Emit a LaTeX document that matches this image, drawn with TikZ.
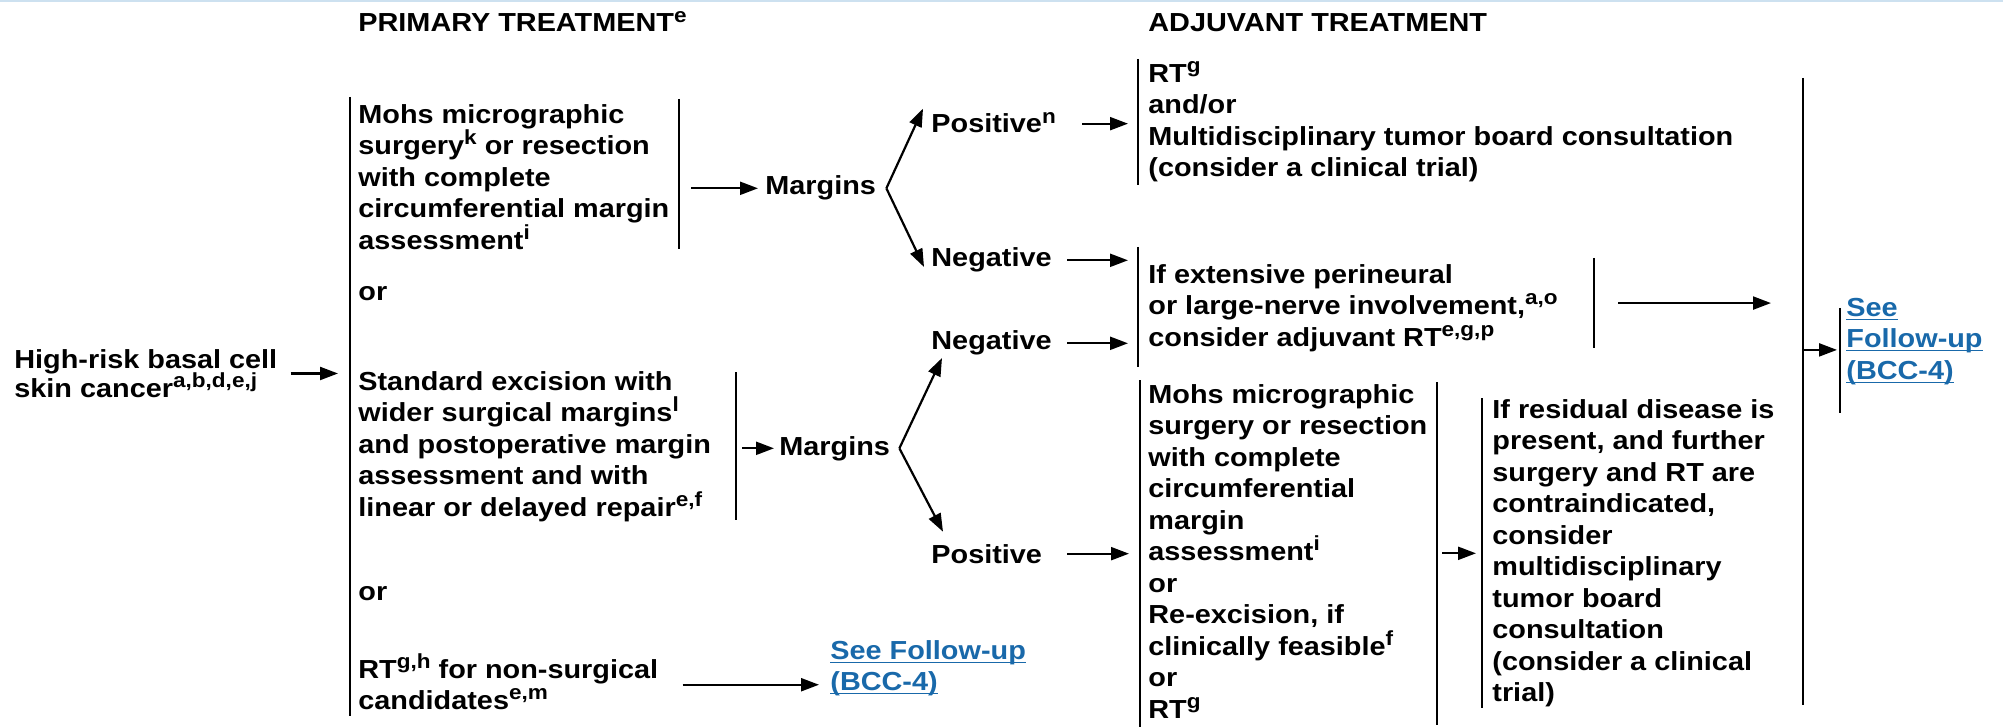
\documentclass[tikz,border=0pt]{standalone}
\usepackage{fontspec}
\setmainfont{Liberation Sans}[FakeStretch=1.105]
\usetikzlibrary{arrows.meta}
\definecolor{linkblue}{RGB}{25,105,170}
\definecolor{rulesky}{RGB}{205,225,240}
\newcommand{\sps}[1]{\smash{\raisebox{0.38em}{\fontsize{10.2}{12}\selectfont #1}}}
\newcommand{\lnk}[1]{\underline{\smash{#1}}}
\newcommand{\boxfont}{\bfseries\fontsize{13.05}{15.75}\selectfont\lineskiplimit=-20pt}

\begin{document}
\begin{tikzpicture}[x=0.5pt,y=-0.5pt,
   txt/.style={inner sep=0pt, align=left, anchor=north west, font=\boxfont},
   word/.style={inner sep=0pt, anchor=base west, font=\boxfont},
   link/.style={txt, text=linkblue},
   bar/.style={line width=1pt},
   arr/.style={line width=1.1pt, -{Triangle[length=9pt,width=6.5pt]}}]
   \useasboundingbox (0,0) rectangle (2003,727);
   \draw[rulesky, line width=1.5pt] (0,1) -- (2003,1);

   % headings
   \node[word] (hdP) at (358,32) {PRIMARY TREATMENT\sps{e}};
   \node[word] (hdA) at (1148,32) {ADJUVANT TREATMENT};

   % primary treatment
   \node[txt, font={\boxfont\baselineskip=14.5pt}] (src) at (14,349) {High-risk basal cell\\skin cancer\sps{a,b,d,e,j}};
   \node[txt] (mohs) at (358,104) {Mohs micrographic\\surgery\sps{k} or resection\\with complete\\circumferential margin\\assessment\sps{i}};
   \node[word] (or1) at (358,300) {or};
   \node[txt] (std) at (358,371) {Standard excision with\\wider surgical margins\sps{l}\\and postoperative margin\\assessment and with\\linear or delayed repair\sps{e,f}};
   \node[word] (or2) at (358,600) {or};
   \node[txt] (rt) at (358,659) {RT\sps{g,h} for non-surgical\\candidates\sps{e,m}};
   \node[link] (see1) at (830,659) {\lnk{See Follow-up}\\\lnk{(BCC-4)}};

   \node[word] (mrg1) at (765,195) {Margins};
   \node[word] (mrg2) at (779,455) {Margins};
   \node[word] (pos1) at (931,133) {Positive\sps{n}};
   \node[word] (neg1) at (931,267) {Negative};
   \node[word] (neg2) at (931,350) {Negative};
   \node[word] (pos2) at (931,563) {Positive};

   % adjuvant treatment
   \node[txt] (adjA) at (1148,64) {RT\sps{g}\\and/or\\Multidisciplinary tumor board consultation\\(consider a clinical trial)};
   \node[txt] (adjB) at (1148,264) {If extensive perineural\\or large-nerve involvement,\sps{a,o}\\consider adjuvant RT\sps{e,g,p}};
   \node[txt] (adjC) at (1148,384) {Mohs micrographic\\surgery or resection\\with complete\\circumferential\\margin\\assessment\sps{i}\\or\\Re-excision, if\\clinically feasible\sps{f}\\or\\RT\sps{g}};
   \node[txt] (resid) at (1492,399) {If residual disease is\\present, and further\\surgery and RT are\\contraindicated,\\consider\\multidisciplinary\\tumor board\\consultation\\(consider a clinical\\trial)};
   \node[link] (see2) at (1846,316) {\lnk{See}\\\lnk{Follow-up}\\\lnk{(BCC-4)}};

   % bars
   \coordinate (primT) at (350,97);   \draw[bar] (primT) -- ++(0,619);
   \coordinate (mohsR) at (679,99);   \draw[bar] (mohsR) -- ++(0,150);
   \coordinate (stdR)  at (736,372);  \draw[bar] (stdR)  -- ++(0,148);
   \coordinate (adjAL) at (1138,59);  \draw[bar] (adjAL) -- ++(0,126);
   \coordinate (adjBL) at (1138,247); \draw[bar] (adjBL) -- ++(0,120);
   \coordinate (adjBR) at (1594,258); \draw[bar] (adjBR) -- ++(0,90);
   \coordinate (adjCL) at (1140,380); \draw[bar] (adjCL) -- ++(0,347);
   \coordinate (adjCR) at (1437,382); \draw[bar] (adjCR) -- ++(0,343);
   \coordinate (resL)  at (1482,398); \draw[bar] (resL)  -- ++(0,310);
   \coordinate (fupL)  at (1803,78);  \draw[bar] (fupL)  -- ++(0,627);
   \coordinate (fupR)  at (1840,308); \draw[bar] (fupR)  -- ++(0,105);

   % arrows
   \draw[arr, shorten >=6pt] ([xshift=6.5pt]src.east) -- (src.east -| primT);
   \draw[arr, shorten <=6pt] (mohsR |- mrg1.west) -- ([xshift=-3.5pt]mrg1.west);
   \draw[arr, shorten <=3pt] (stdR |- mrg2.west) -- ([xshift=-2.5pt]mrg2.west);

   \coordinate (ap1) at ([xshift=5pt]mrg1.east);
   \draw[arr] (ap1) -- ([xshift=-4pt,yshift=2.5pt]pos1.north west);
   \draw[arr] (ap1) -- ([xshift=-3.5pt]neg1.base west);
   \coordinate (ap2) at ([xshift=4.5pt]mrg2.east);
   \draw[arr] (ap2) -- ([xshift=5.5pt,yshift=-4pt]neg2.base west);
   \draw[arr] (ap2) -- ([xshift=6pt,yshift=6pt]pos2.north west);

   \draw[arr, shorten >=5pt] ([xshift=13pt]pos1.east) -- (pos1.east -| adjAL);
   \draw[arr, shorten >=5pt] ([xshift=7.5pt]neg1.east) -- (neg1.east -| adjBL);
   \draw[arr, shorten >=5pt] ([xshift=7.5pt]neg2.east) -- (neg2.east -| adjBL);
   \draw[arr, shorten >=5.5pt] ([xshift=12.5pt]pos2.east) -- (pos2.east -| adjCL);

   \coordinate (adjBmid) at ([yshift=2.5pt]adjB.east);
   \draw[arr, shorten <=12pt, shorten >=16pt] (adjBR |- adjBmid) -- (adjBmid -| fupL);
   \draw[arr] (fupL |- see2.west) -- ([xshift=-4.5pt]see2.west);
   \draw[arr, shorten <=2.5pt] (adjCR |- resid.west) -- ([xshift=-8pt]resid.west);
   \draw[arr, shorten >=5.5pt] ([xshift=12pt]rt.east) -- (rt.east -| see1.west);
\end{tikzpicture}
\end{document}
